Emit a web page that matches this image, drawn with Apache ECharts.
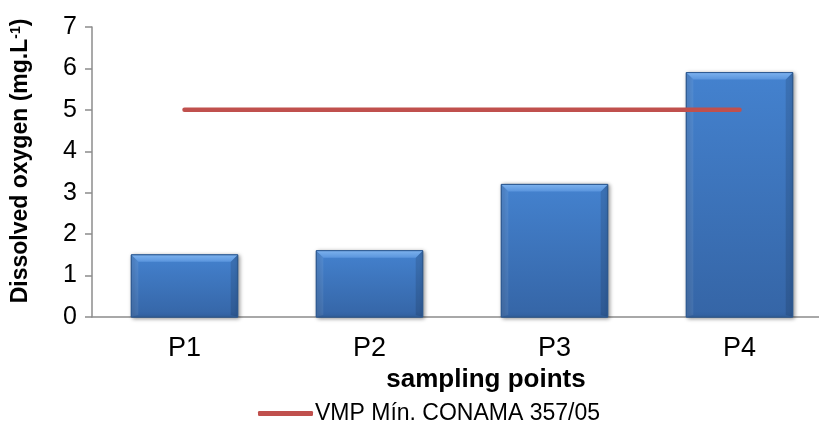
<!DOCTYPE html>
<html>
<head>
<meta charset="utf-8">
<script src="https://cdn.jsdelivr.net/npm/echarts@6/dist/echarts.min.js"></script>
<style>
  html, body { margin: 0; padding: 0; background: #fff; }
  #chart { width: 819px; height: 425px; }
</style>
</head>
<body>
<div id="chart"></div>
<script>
const categories = ['P1', 'P2', 'P3', 'P4'];
const oxygenValues = [1.5, 1.6, 3.2, 5.9];
const limitValues = [5, 5, 5, 5];
const yTicks = [0, 1, 2, 3, 4, 5, 6, 7];
const limitName = 'VMP Mín. CONAMA 357/05';

const chart = echarts.init(document.getElementById('chart'));
const font = 'Liberation Sans, Arial, sans-serif';
const LG = echarts.graphic.LinearGradient;

// Bevelled column: body plus edge facets, sized from the category band.
function renderBevelBar(params, api) {
  const idx = api.value(0);
  const val = api.value(1);
  const top = api.coord([idx, val]);
  const base = api.coord([idx, 0]);
  const band = api.size([1, 0])[0];
  const w = band * 0.575;
  const x0 = top[0] - w / 2, x1 = x0 + w;
  const y0 = top[1], y1 = base[1];
  const b = Math.min(7, (y1 - y0) / 2);
  return {
    type: 'group',
    children: [
      {
        type: 'rect',
        shape: { x: x0, y: y0, width: w, height: y1 - y0 },
        style: {
          fill: new LG(0, 0, 0, 1, [
            { offset: 0, color: '#4482CF' },
            { offset: 1, color: '#3565A6' }
          ]),
          stroke: '#2E5A92',
          lineWidth: 1,
          shadowBlur: 4,
          shadowColor: 'rgba(0,0,0,0.45)',
          shadowOffsetX: 1.5,
          shadowOffsetY: 1
        }
      },
      {
        type: 'polygon',
        shape: { points: [[x0, y0], [x0 + b, y0 + b], [x0 + b, y1 - 2], [x0, y1]] },
        style: { fill: 'rgba(255,255,255,0.08)' }
      },
      {
        type: 'polygon',
        shape: { points: [[x1, y0], [x1, y1], [x1 - b, y1 - 2], [x1 - b, y0 + b]] },
        style: { fill: 'rgba(0,0,0,0.12)' }
      },
      {
        type: 'polygon',
        shape: { points: [[x0, y0], [x1, y0], [x1 - b, y0 + b], [x0 + b, y0 + b]] },
        style: {
          fill: new LG(0, 0, 0, 1, [
            { offset: 0, color: '#7DB2EE' },
            { offset: 1, color: '#5A95DD' }
          ])
        }
      },
      {
        type: 'rect',
        shape: { x: x0, y: y0, width: w, height: y1 - y0 },
        style: { fill: 'none', stroke: '#2E5A92', lineWidth: 1 }
      }
    ]
  };
}

chart.setOption({
  animation: false,
  grid: {
    left: 92, right: -13, top: 27, bottom: 108,
    containLabel: false,
    outerBoundsMode: 'none'
  },
  legend: {
    data: [limitName],
    bottom: 0,
    left: 258,
    padding: 0,
    icon: 'roundRect',
    itemWidth: 55,
    itemHeight: 5,
    itemGap: 4,
    textStyle: { fontFamily: font, fontSize: 23, color: '#000', padding: [0, 0, 0, -3] },
    itemStyle: { color: '#C0504D' }
  },
  xAxis: {
    type: 'category',
    data: categories,
    name: 'sampling points',
    nameLocation: 'middle',
    nameGap: 49,
    nameTextStyle: {
      fontFamily: font, fontSize: 26, fontWeight: 'bold', color: '#000',
      padding: [0, 0, 0, 48]
    },
    axisLine: { lineStyle: { color: '#8C8C8C', width: 1.5 } },
    axisTick: { show: false },
    axisLabel: { fontFamily: font, fontSize: 27, color: '#000', margin: 18 }
  },
  yAxis: {
    type: 'value',
    min: yTicks[0],
    max: yTicks[yTicks.length - 1],
    interval: 1,
    name: 'Dissolved oxygen (mg.L{sup|-1})',
    nameLocation: 'middle',
    nameGap: 60,
    nameRotate: 90,
    nameTextStyle: {
      fontFamily: font, fontSize: 23, fontWeight: 'bold', color: '#000',
      padding: [0, 0, 0, 22],
      rich: {
        sup: { fontFamily: font, fontSize: 14, fontWeight: 'bold', color: '#000', verticalAlign: 'top', padding: [0, 0, 9, 0] }
      }
    },
    axisLine: { show: true, lineStyle: { color: '#8C8C8C', width: 1.5 } },
    axisTick: { show: true, length: 7, lineStyle: { color: '#8C8C8C', width: 1.5 } },
    splitLine: { show: false },
    axisLabel: { fontFamily: font, fontSize: 25, color: '#000', margin: 15 }
  },
  series: [
    {
      name: 'Dissolved oxygen',
      type: 'custom',
      renderItem: renderBevelBar,
      data: oxygenValues.map((v, i) => [i, v]),
      encode: { x: 0, y: 1 },
      z: 2
    },
    {
      name: limitName,
      type: 'line',
      data: limitValues,
      symbol: 'none',
      lineStyle: { color: '#C0504D', width: 4.5, cap: 'round' },
      itemStyle: { color: '#C0504D' },
      z: 5
    }
  ]
});
</script>
</body>
</html>
